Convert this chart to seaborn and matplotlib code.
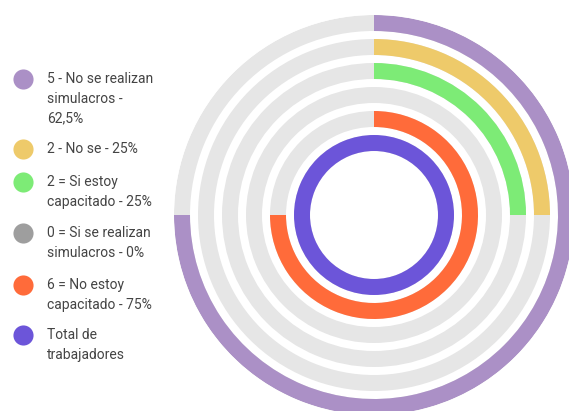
import numpy as np
import matplotlib
matplotlib.use("Agg")
import matplotlib.pyplot as plt
import seaborn as sns

sns.set_theme(style="white")
plt.rcParams['font.family'] = ['Roboto', 'DejaVu Sans']

# Data (outer ring to inner ring)
labels = [
    "5 - No se realizan\nsimulacros -\n62,5%",
    "2 - No se - 25%",
    "2 = Si estoy\ncapacitado - 25%",
    "0 = Si se realizan\nsimulacros - 0%",
    "6 = No estoy\ncapacitado - 75%",
    "Total de\ntrabajadores",
]
arc_percent = [75, 25, 25, 0, 75, 100]   # drawn arc extent, as seen
colors = ["#ab90c6", "#eeca6a", "#7deb76", "#9e9e9e", "#ff6b3a", "#6c55d9"]

W, H = 569, 411
fig = plt.figure(figsize=(W / 100, H / 100), dpi=100)

# Radial chart: centre at (374, 215) px, outer radius 200 px
cx, cy, R = 374, 215, 200
ax = fig.add_axes([(cx - R) / W, (H - cy - R) / H, 2 * R / W, 2 * R / H],
                  projection='polar')
ax.set_theta_zero_location('N')
ax.set_theta_direction(-1)
ax.set_ylim(0, R)
ax.set_axis_off()

ring_w = 16
pitch = 24
for i, (p, c) in enumerate(zip(arc_percent, colors)):
    r_out = R - i * pitch
    ax.bar(0, ring_w, width=2 * np.pi, bottom=r_out - ring_w, align='edge',
           color="#e6e6e6", linewidth=0)
    if p > 0:
        ax.bar(0, ring_w, width=2 * np.pi * p / 100, bottom=r_out - ring_w,
               align='edge', color=c, linewidth=0)

# Legend
lax = fig.add_axes([0, 0, 1, 1])
lax.set_xlim(0, W)
lax.set_ylim(H, 0)
lax.set_axis_off()
circle_y = [79, 149, 182, 233, 285, 335]
line_h = 19.5
for lab, c, y in zip(labels, colors, circle_y):
    lax.scatter([23], [y], s=210, color=c, linewidths=0)
    for k, line in enumerate(lab.split("\n")):
        lax.text(47, y + k * line_h, line, va='center', ha='left',
                 fontsize=10, color="#444444")

fig.savefig("out.png", dpi=100)
